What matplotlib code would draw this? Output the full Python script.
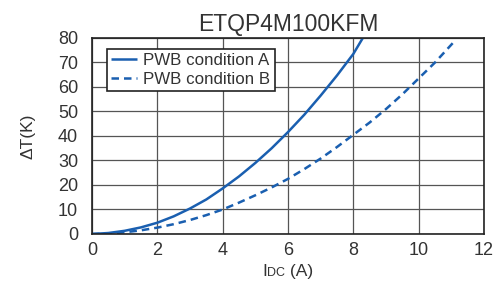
import matplotlib
matplotlib.use("Agg")
from matplotlib import pyplot as plt
from matplotlib.offsetbox import TextArea, HPacker, AnchoredOffsetbox

# values
x_a = [0, 0.5, 1, 1.5, 2, 2.5, 3, 3.5, 4, 4.5, 5, 5.5, 6, 6.5, 7, 7.5, 8, 8.29]
y_a = [0, 0.4, 1.3, 2.7, 4.6, 7.2, 10.4, 14.1, 18.6, 23.5, 29, 35, 41.6, 48.7, 56.5, 64.7, 73.5, 80]
x_b = [0, 0.5, 1, 1.5, 2, 2.5, 3, 3.5, 4, 4.5, 5, 5.5, 6, 6.5, 7, 7.5, 8, 8.5, 9, 9.5, 10, 10.5, 11.05]
y_b = [0, 0.2, 0.7, 1.5, 2.6, 4, 5.7, 7.7, 10, 12.8, 15.8, 19, 22.5, 26.5, 30.8, 35.5, 40.5, 45.5,
       51, 57, 63.5, 70, 78]
labels = ["PWB condition A", "PWB condition B"]
title = "ETQP4M100KFM"
x_ticks = [0, 2, 4, 6, 8, 10, 12]
y_ticks = [0, 10, 20, 30, 40, 50, 60, 70, 80]

plt.rcParams["font.family"] = ["Liberation Sans", "DejaVu Sans"]
txt = "#333333"
blue = "#1a5fb0"

fig = plt.figure(figsize=(4.96, 2.81), dpi=100)
ax = fig.add_axes([0.1855, 0.1673, 0.7903, 0.6975])

ax.plot(x_a, y_a, color=blue, lw=1.8, label=labels[0], solid_capstyle="butt")
ax.plot(x_b, y_b, color=blue, lw=1.8, ls=(0, (3, 2)), label=labels[1])

ax.set_xlim(0, 12)
ax.set_ylim(0, 80)
ax.set_xticks(x_ticks)
ax.set_yticks(y_ticks)
ax.grid(True, color="#555555", lw=0.9)
ax.set_axisbelow(True)
ax.tick_params(axis="y", length=0, labelsize=13, labelcolor=txt, pad=10)
ax.tick_params(axis="x", length=0, labelsize=13, labelcolor=txt, pad=6)
for s in ax.spines.values():
    s.set_color("#222222")
    s.set_linewidth(1.2)

ax.set_title(title, fontsize=16.5, color=txt, pad=5)
ax.set_ylabel("\u0394T(K)", fontsize=12.5, color=txt, labelpad=16)

# x label: I with small-caps "DC"
parts = HPacker(children=[TextArea("I", textprops=dict(size=12.5, color=txt)),
                          TextArea("DC", textprops=dict(size=9, color=txt)),
                          TextArea(" (A)", textprops=dict(size=12.5, color=txt))],
                align="baseline", pad=0, sep=0)
box = AnchoredOffsetbox(loc="upper center", child=parts, frameon=False,
                        bbox_to_anchor=(0.5, -0.125), bbox_transform=ax.transAxes, borderpad=0)
ax.add_artist(box)

leg = ax.legend(loc="upper left", bbox_to_anchor=(0.038, 0.944), fontsize=12.2, frameon=True,
                fancybox=False, edgecolor="#222222", framealpha=1, handlelength=1.5,
                handletextpad=0.4, borderpad=0.25, labelspacing=0.2, borderaxespad=0)
leg.get_frame().set_linewidth(1.2)
for t in leg.get_texts():
    t.set_color(txt)

fig.savefig("out.png", dpi=100, facecolor="white")
